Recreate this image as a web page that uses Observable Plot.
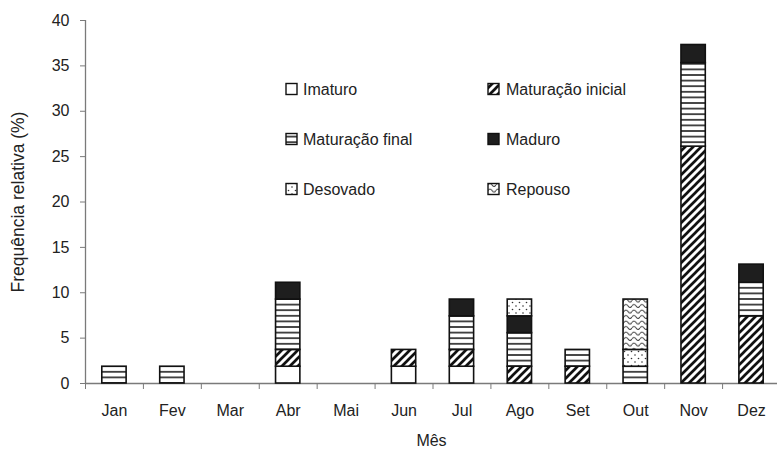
<!DOCTYPE html>
<html><head><meta charset="utf-8">
<script src="https://cdn.jsdelivr.net/npm/d3@7"></script>
<script src="https://cdn.jsdelivr.net/npm/@observablehq/plot@0.6"></script>
<style>
body{margin:0;background:#fff;}
svg{font-family:"Liberation Sans",Arial,Helvetica,sans-serif;}
</style>
</head><body><div id="chart"></div>
<script>
// ---- data ----
const months = ["Jan","Fev","Mar","Abr","Mai","Jun","Jul","Ago","Set","Out","Nov","Dez"];
const stages = ["Imaturo","Maturação inicial","Maturação final","Maduro","Desovado","Repouso"];
const imaturo    = [0, 0, 0, 1.85, 0, 1.85, 1.85, 0, 0, 0, 0, 0];
const matInicial = [0, 0, 0, 1.85, 0, 1.85, 1.85, 1.85, 1.85, 0, 26.1, 7.4];
const matFinal   = [1.85, 1.85, 0, 5.55, 0, 0, 3.7, 3.7, 1.85, 1.85, 9.2, 3.7];
const maduro     = [0, 0, 0, 1.85, 0, 0, 1.85, 1.85, 0, 0, 2.0, 2.0];
const desovado   = [0, 0, 0, 0, 0, 0, 0, 1.85, 0, 1.85, 0, 0];
const repouso    = [0, 0, 0, 0, 0, 0, 0, 0, 0, 5.55, 0, 0];
const yTicks = [0, 5, 10, 15, 20, 25, 30, 35, 40];
const yLabel = "Frequência relativa (%)";
const xLabel = "Mês";

const series = [imaturo, matInicial, matFinal, maduro, desovado, repouso];
const rows = [];
series.forEach((vals, si) => vals.forEach((v, mi) => {
  if (v > 0) rows.push({month: months[mi], stage: stages[si], value: v});
}));

// ---- layout ----
const W = 777, H = 452;
const mL = 85, mT = 20, mB = 69, xEnd = 780;
const step = (xEnd - mL) / months.length;
const patIds = ["p-imaturo","p-inicial","p-final","p-maduro","p-desovado","p-repouso"];
const axisGray = "#7a7a7a", textCol = "#222";

const plot = Plot.plot({
  width: W, height: H,
  marginLeft: mL, marginRight: 0, marginTop: mT, marginBottom: mB,
  style: {fontFamily: '"Liberation Sans",Arial,sans-serif', fontSize: "16px", color: textCol, background: "#fff"},
  x: {domain: months, range: [mL, xEnd], paddingInner: 0.58, paddingOuter: 0.29, round: false, label: null},
  y: {domain: [0, 40], label: null},
  color: {domain: stages, range: patIds.map(id => `url(#${id})`)},
  marks: [
    Plot.ruleY([0], {stroke: axisGray, strokeWidth: 1.3}),
    Plot.ruleX([months[0]], {y1: 0, y2: 40, dx: -step / 2, stroke: axisGray, strokeWidth: 1.3}),
    Plot.axisY({ticks: yTicks, tickSize: 5, tickPadding: 11, stroke: axisGray, fill: textCol, fontSize: 16, label: null}),
    Plot.axisX({tickSize: 6, tickFormat: () => "", dx: -step / 2, stroke: axisGray, label: null}),
    Plot.axisX({tickSize: 0, tickPadding: 21, fill: textCol, fontSize: 16, label: null}),
    Plot.barY(rows, {x: "month", y: "value", fill: "stage", stroke: "#111", strokeWidth: 1.6}),
    Plot.text([yLabel], {frameAnchor: "left", textAnchor: "middle", rotate: -90, dx: -67, fontSize: 17.5, fill: textCol}),
    Plot.text([xLabel], {frameAnchor: "bottom", textAnchor: "middle", dy: 62, fontSize: 16, fill: textCol})
  ]
});

// ---- patterns ----
const svg = d3.select(plot);
const y0 = H - mB;
const defs = svg.insert("defs", ":first-child");
function pat(id, w, h, yOff = 0) {
  const p = defs.append("pattern").attr("id", id).attr("patternUnits", "userSpaceOnUse")
    .attr("x", 0).attr("y", yOff).attr("width", w).attr("height", h);
  p.append("rect").attr("width", w).attr("height", h).attr("fill", "#fff");
  return p;
}
pat("p-imaturo", 4, 4);
pat("p-inicial", 8, 8).append("path")
  .attr("d", "M-2,2 L2,-2 M0,8 L8,0 M6,10 L10,6")
  .attr("stroke", "#111").attr("stroke-width", 2.7);
const lineGap = 5.6;
const pf = pat("p-final", 6, lineGap, y0);
pf.append("line").attr("x1", 0).attr("x2", 6).attr("y1", 0).attr("y2", 0)
  .attr("stroke", "#111").attr("stroke-width", 1.5);
pf.append("line").attr("x1", 0).attr("x2", 6).attr("y1", lineGap).attr("y2", lineGap)
  .attr("stroke", "#111").attr("stroke-width", 1.5);
defs.append("pattern").attr("id", "p-maduro").attr("patternUnits", "userSpaceOnUse")
  .attr("width", 4).attr("height", 4)
  .append("rect").attr("width", 4).attr("height", 4).attr("fill", "#1e1e1e");
const pd = pat("p-desovado", 7, 7);
pd.append("circle").attr("cx", 1.5).attr("cy", 1.5).attr("r", 0.8).attr("fill", "#333");
pd.append("circle").attr("cx", 5).attr("cy", 5).attr("r", 0.8).attr("fill", "#333");
pat("p-repouso", 8, 5.5).append("path")
  .attr("d", "M0,3.5 Q2,0.5 4,3.5 T8,3.5")
  .attr("fill", "none").attr("stroke", "#333").attr("stroke-width", 1);

// ---- legend (inside plot area) ----
const colX = [286, 488], textX = [303, 506], rowY = [89, 139, 189], sq = 11;
const lg = svg.append("g").attr("class", "legend").attr("text-anchor", "start");
stages.forEach((s, i) => {
  const c = i % 2, cy = rowY[Math.floor(i / 2)];
  lg.append("rect").attr("x", colX[c]).attr("y", cy - sq / 2).attr("width", sq).attr("height", sq)
    .attr("fill", `url(#${patIds[i]})`).attr("stroke", "#111").attr("stroke-width", 1.4);
  lg.append("text").attr("x", textX[c]).attr("y", cy).attr("dy", "0.35em")
    .attr("text-anchor", "start").attr("font-size", 16).attr("fill", textCol).text(s);
});

document.getElementById("chart").appendChild(plot);
</script>
</body></html>
